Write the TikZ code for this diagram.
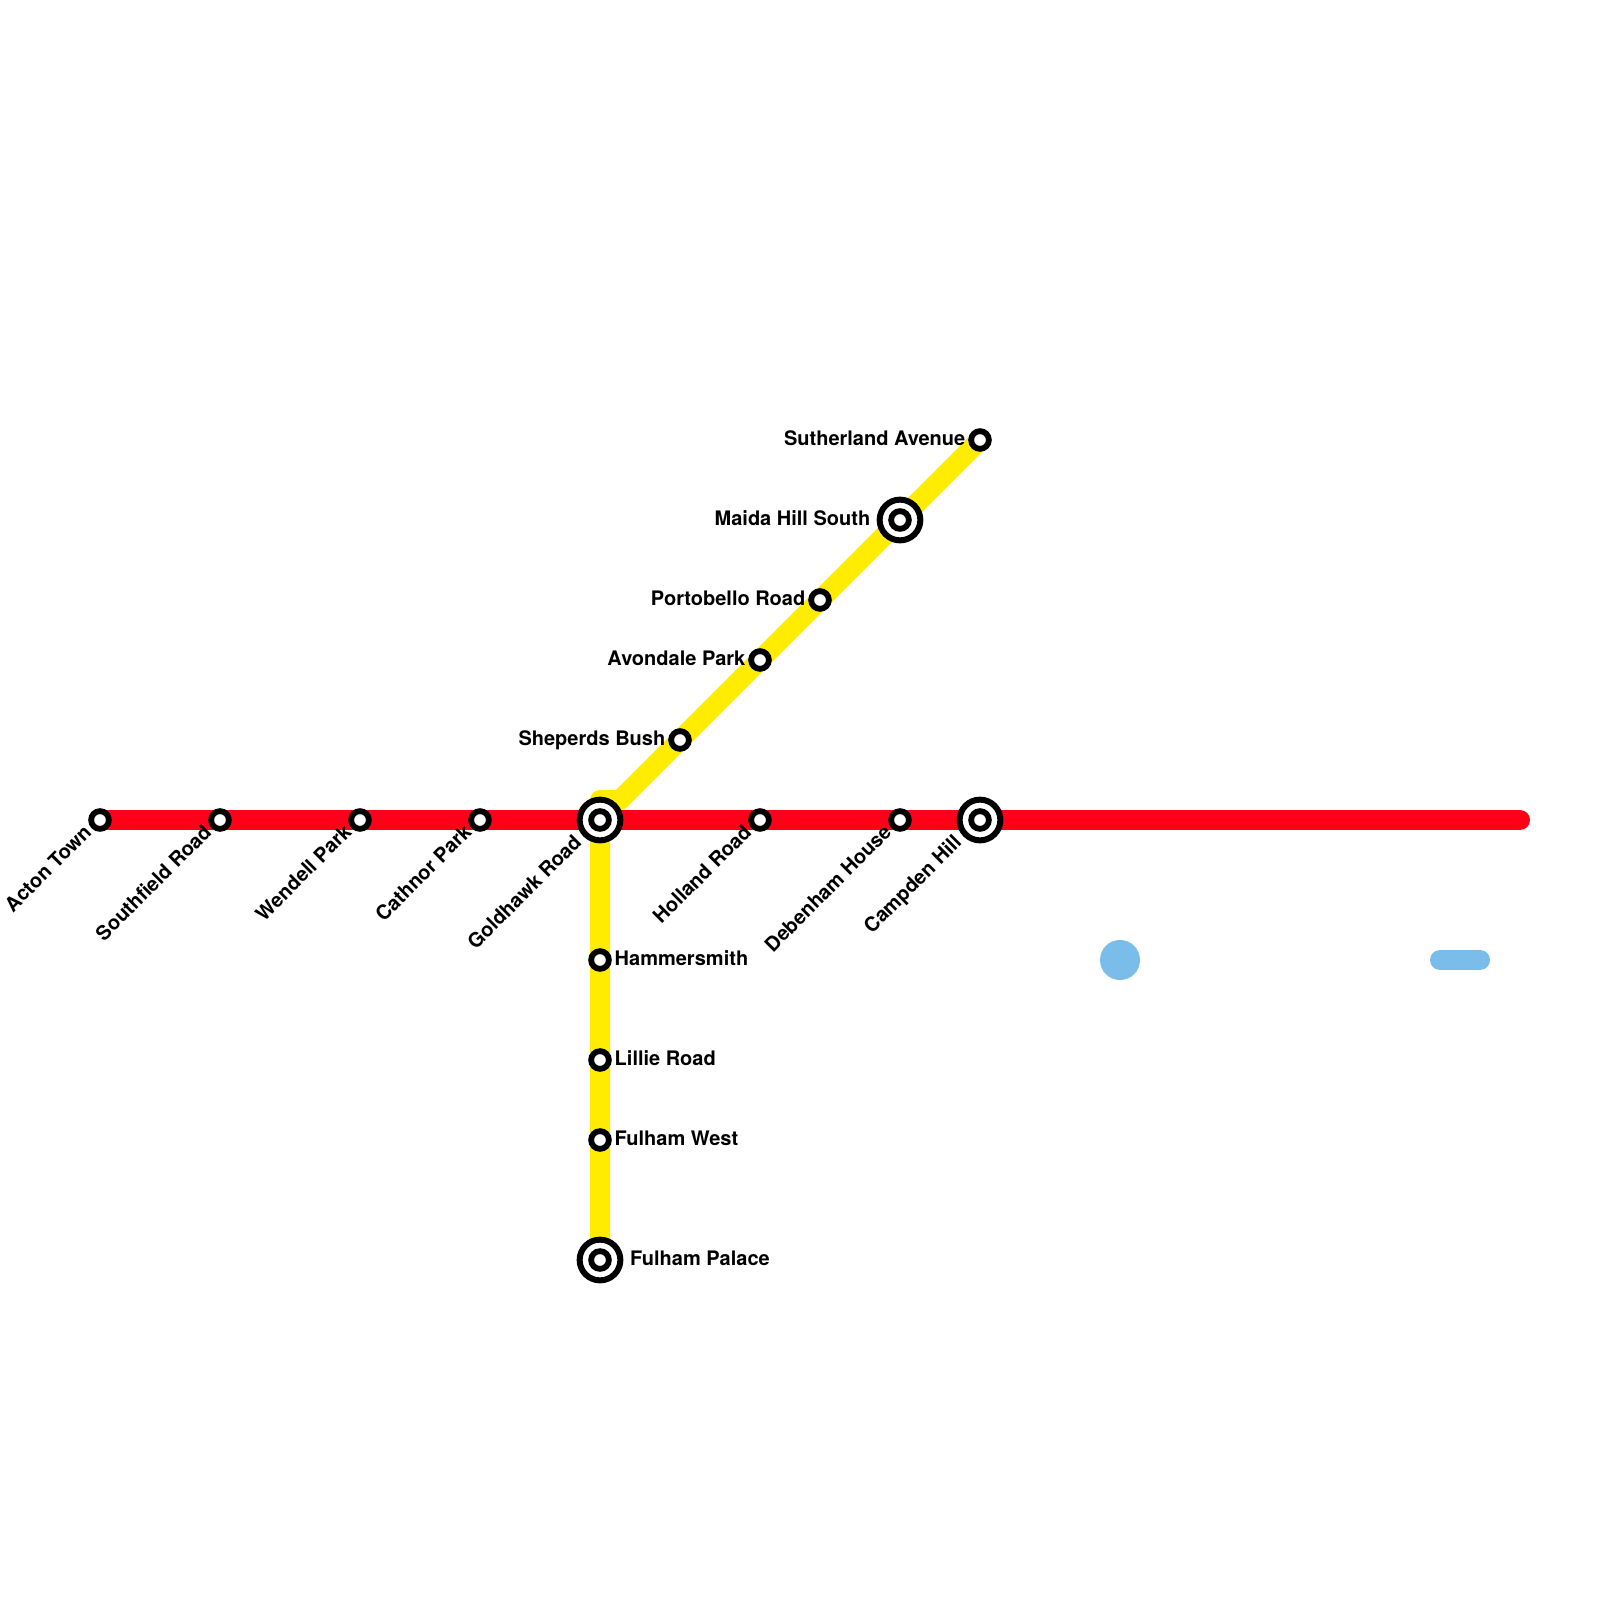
\documentclass[tikz,border=0pt]{standalone}
\usepackage{fontspec}
\setmainfont{TeX Gyre Heros}
\usepackage{xcolor}
\usepackage{tikz}
\usetikzlibrary{positioning,backgrounds}

\definecolor{linered}{RGB}{255,0,25}
\definecolor{lineyellow}{RGB}{255,236,0}
\definecolor{lineblue}{RGB}{122,189,234}

\tikzset{
  stn/.style={circle, draw=black, fill=white, line width=0.058cm, minimum size=0.177cm, inner sep=0pt},
  intr/.style={circle, draw=black, fill=white, line width=0.06cm, minimum size=0.407cm, inner sep=0pt},
  track/.style={line width=0.2cm, line cap=round, line join=round},
  lbl/.style={font=\fontsize{5.69pt}{6.8pt}\selectfont\bfseries, inner sep=0pt, text=black, text height=4.1pt, text depth=0pt},
  lblleft/.style={lbl, anchor=east},
  lblright/.style={lbl, anchor=west},
  lbldown/.style={lbl, anchor=east, rotate=45}
}

\begin{document}
\begin{tikzpicture}[x=0.01cm, y=-0.01cm]

\useasboundingbox (0,0) rectangle (1600,1600);

% Stations on the red line
\node[stn] (acton) at (100,820) {};
\node[stn] (southfield) at (220,820) {};
\node[stn] (wendell) at (360,820) {};
\node[stn] (cathnor) at (480,820) {};
\node[intr] (goldhawk) at (600,820) {};
\node[stn] (goldhawkin) at (goldhawk) {};
\node[stn] (holland) at (760,820) {};
\node[stn] (debenham) at (900,820) {};
\node[intr] (campden) at (980,820) {};
\node[stn] (campdenin) at (campden) {};
\coordinate (redend) at (1520,820);

% Stations on the yellow line, diagonal part
\coordinate (bend) at (620,800);
\coordinate (stub) at (600,800);
\node[stn] (sheperds) at (680,740) {};
\node[stn] (avondale) at (760,660) {};
\node[stn] (portobello) at (820,600) {};
\node[intr] (maida) at (900,520) {};
\node[stn] (maidain) at (maida) {};
\node[stn] (sutherland) at (980,440) {};

% Stations on the yellow line, going south
\node[stn] (hammersmith) at (600,960) {};
\node[stn] (lillie) at (600,1060) {};
\node[stn] (fulhamwest) at (600,1140) {};
\node[intr] (fulhampalace) at (600,1260) {};
\node[stn] (fulhampalacein) at (fulhampalace) {};

% Lines, behind the stations
\begin{scope}[on background layer]
\draw[track, lineyellow] (fulhampalace.center) -- (stub) -- (bend) -- (sutherland.center);
\draw[track, linered] (acton.center) -- (redend);
\end{scope}

% Blue pieces
\node[circle, fill=lineblue, minimum size=0.40cm, inner sep=0pt] (bluespot) at (1120,960) {};
\coordinate (bara) at (1440,960);
\coordinate (barb) at (1480,960);
\draw[track, lineblue] (bara) -- (barb);

% Labels below the red line
\node[lbldown] (actonlbl) at ([shift={(-12,8)}]acton) {Acton Town};
\node[lbldown] (southfieldlbl) at ([shift={(-12,8)}]southfield) {Southfield Road};
\node[lbldown] (wendelllbl) at ([shift={(-12,8)}]wendell) {Wendell Park};
\node[lbldown] (cathnorlbl) at ([shift={(-12,8)}]cathnor) {Cathnor Park};
\node[lbldown] (goldhawklbl) at ([shift={(-22,18)}]goldhawk) {Goldhawk Road};
\node[lbldown] (hollandlbl) at ([shift={(-12,8)}]holland) {Holland Road};
\node[lbldown] (debenhamlbl) at ([shift={(-12,8)}]debenham) {Debenham House};
\node[lbldown] (campdenlbl) at ([shift={(-22,18)}]campden) {Campden Hill};

% Labels left of the diagonal
\node[lblleft] (sherperdslbl) at ([shift={(-14,-2)}]sheperds) {Sheperds Bush};
\node[lblleft] (avondalelbl) at ([shift={(-14,-2)}]avondale) {Avondale Park};
\node[lblleft] (portobellolbl) at ([shift={(-14,-2)}]portobello) {Portobello Road};
\node[lblleft] (maidalbl) at ([shift={(-29,-2)}]maida) {Maida Hill South};
\node[lblleft] (sutherlandlbl) at ([shift={(-14,-2)}]sutherland) {Sutherland Avenue};

% Labels right of the south branch
\node[lblright] (hammersmithlbl) at ([shift={(14,-2)}]hammersmith) {Hammersmith};
\node[lblright] (lillielbl) at ([shift={(14,-2)}]lillie) {Lillie Road};
\node[lblright] (fulhamwestlbl) at ([shift={(14,-2)}]fulhamwest) {Fulham West};
\node[lblright] (fulhampalacelbl) at ([shift={(29.5,-2)}]fulhampalace) {Fulham Palace};

\end{tikzpicture}
\end{document}
